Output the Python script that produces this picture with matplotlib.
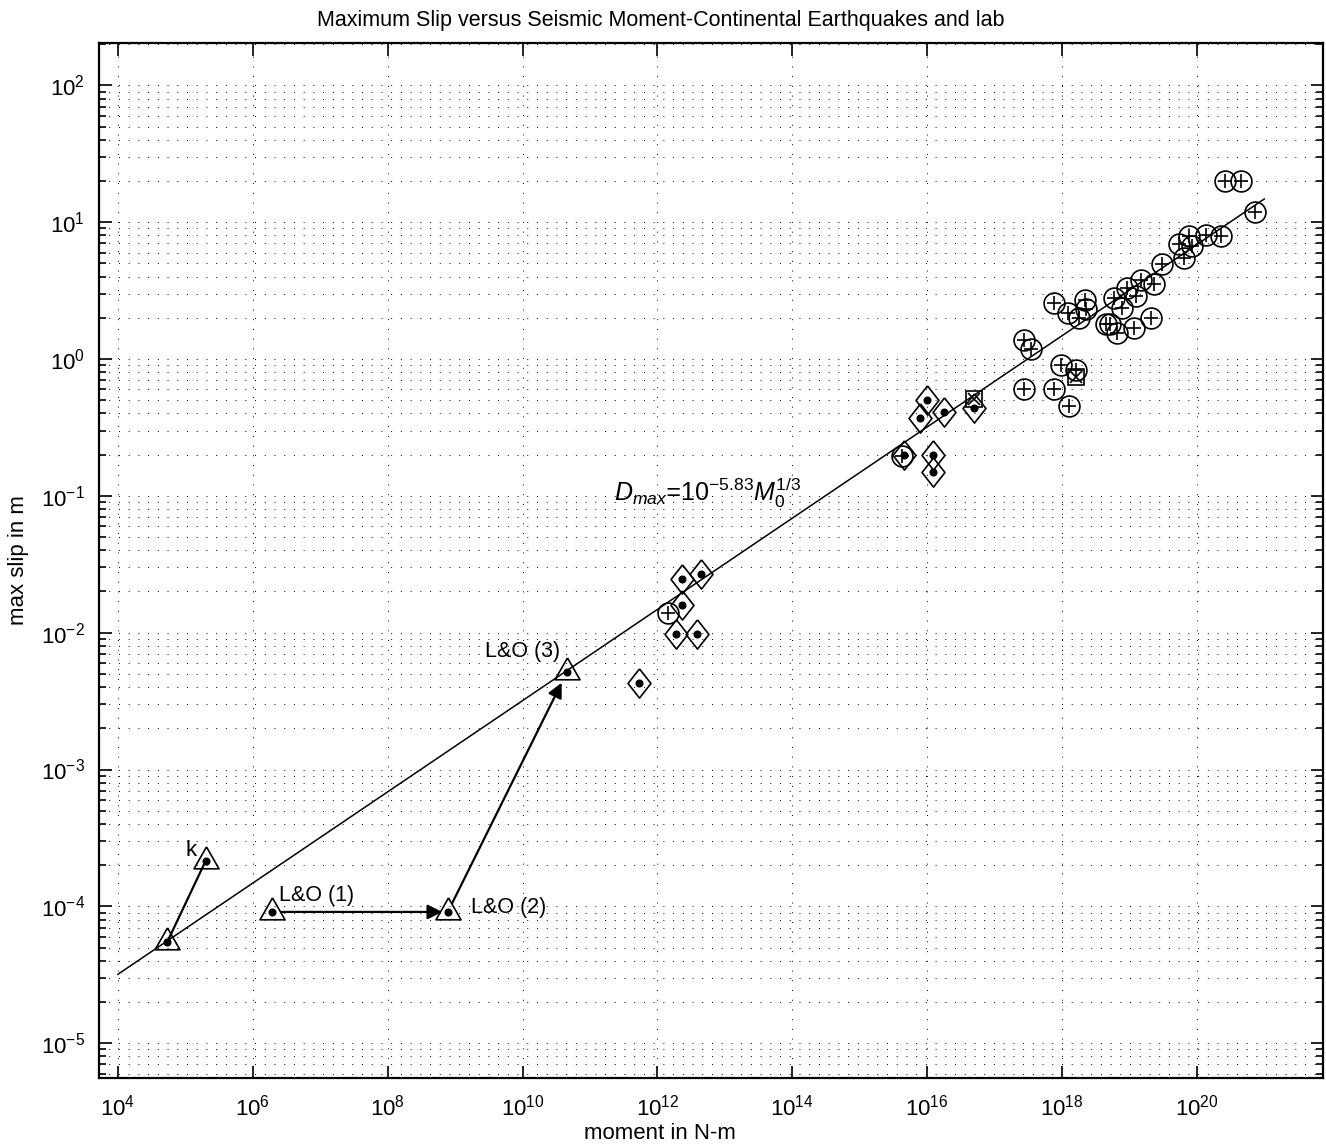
import numpy as np
import matplotlib
matplotlib.use("Agg")
import matplotlib.pyplot as plt
from matplotlib.ticker import LogLocator, FixedLocator, NullLocator, FuncFormatter, NullFormatter

plt.rcParams['font.family'] = ['Liberation Sans', 'DejaVu Sans']
plt.rcParams['mathtext.fontset'] = 'custom'
plt.rcParams['mathtext.rm'] = 'Liberation Sans'
plt.rcParams['mathtext.it'] = 'Liberation Sans:italic'

# continental earthquakes (circle with plus)
quake_moment = [1.45e12, 4.3e15, 2.75e17, 3.5e17, 2.75e17, 7.6e17, 9.8e17, 1.26e18,
                1.62e18, 7.6e17, 1.23e18, 2.2e18, 2.3e18, 1.8e18, 4.5e18, 5.1e18,
                6.5e18, 1.17e19, 2.1e19, 5.9e18, 7.8e18, 9.1e18, 1.26e19, 1.48e19,
                2.3e19, 3.0e19, 5.4e19, 6.5e19, 7.6e19, 8.5e19, 1.35e20, 2.3e20,
                2.6e20, 4.5e20, 7.4e20]
quake_slip = [0.014, 0.196, 1.38, 1.18, 0.60, 0.60, 0.90, 0.45,
              0.83, 2.56, 2.17, 2.70, 2.32, 1.99, 1.80, 1.80,
              1.55, 1.68, 1.99, 2.79, 2.36, 3.30, 2.88, 3.78,
              3.52, 4.93, 6.9, 5.46, 7.9, 6.7, 8.0, 7.9,
              20.0, 20.0, 11.8]

# diamonds with dot
small_moment = [5.4e11, 1.86e12, 3.9e12, 2.3e12, 2.3e12, 4.5e12,
                4.6e15, 1.0e16, 7.9e15, 1.8e16, 1.23e16, 1.23e16, 5.0e16]
small_slip = [0.0043, 0.0098, 0.0098, 0.016, 0.0246, 0.027,
              0.20, 0.50, 0.37, 0.41, 0.20, 0.15, 0.44]

# squares with x
sq_moment = [5.0e16, 1.62e18]
sq_slip = [0.51, 0.74]

# lab events (triangles with dot): base, k, L&O (1), L&O (2), L&O (3)
lab_moment = [5.4e4, 2.0e5, 1.9e6, 7.8e8, 4.6e10]
lab_slip = [5.5e-5, 2.15e-4, 9.1e-5, 9.1e-5, 5.2e-3]

fig = plt.figure(figsize=(13.26, 11.46), dpi=100)
ax = fig.add_axes([0.0747, 0.0593, 0.9230, 0.9032])
ax.set_xscale('log')
ax.set_yscale('log')
ax.set_xlim(10**3.72, 10**21.87)
ax.set_ylim(10**-5.255, 10**2.31)

# scaling line
m_fit = np.logspace(4, 21, 50)
ax.plot(m_fit, 10**-5.83 * m_fit**(1/3), color='k', lw=1.1, zorder=3)

tri = [(0, 14), (-12, -7), (12, -7), (0, 14)]
dia = [(0, 14), (11, 0), (0, -14), (-11, 0), (0, 14)]

ax.plot(quake_moment, quake_slip, 'o', ms=15, mfc='none', mec='k', mew=1.2, zorder=4)
ax.plot(quake_moment, quake_slip, '+', ms=10, mec='k', mew=1.2, zorder=4)

ax.plot(small_moment, small_slip, ls='none', marker=dia, ms=21, mfc='none', mec='k', mew=1.2, zorder=4)
ax.plot(small_moment, small_slip, 'o', ms=4.8, color='k', zorder=5)

ax.plot(sq_moment, sq_slip, 's', ms=12, mfc='none', mec='k', mew=1.2, zorder=4)
ax.plot(sq_moment, sq_slip, 'x', ms=8, mec='k', mew=1.2, zorder=4)

ax.plot(lab_moment, lab_slip, ls='none', marker=tri, ms=21, mfc='none', mec='k', mew=1.2, zorder=4)
ax.plot(lab_moment, lab_slip, 'o', ms=4.8, color='k', zorder=5)

# lab paths
ax.plot(lab_moment[:2], lab_slip[:2], color='k', lw=1.6, zorder=4)
arrow_kw = dict(arrowstyle='-|>', color='k', lw=1.6, mutation_scale=22)
ax.annotate('', xy=(lab_moment[3], lab_slip[3]), xytext=(lab_moment[2], lab_slip[2]),
            arrowprops=dict(shrinkA=7, shrinkB=4, **arrow_kw), zorder=4)
ax.annotate('', xy=(lab_moment[4], lab_slip[4]), xytext=(lab_moment[3], lab_slip[3]),
            arrowprops=dict(shrinkA=7, shrinkB=9, **arrow_kw), zorder=4)

ax.text(1.2e5, 2.55e-4, 'k', fontsize=16, ha='center', va='center')
ax.text(2.43e6, 1.2e-4, 'L&O (1)', fontsize=15.5, ha='left', va='center')
ax.text(1.7e9, 9.8e-5, 'L&O (2)', fontsize=15.5, ha='left', va='center')
ax.text(2.8e9, 7.3e-3, 'L&O (3)', fontsize=15.5, ha='left', va='center')
ax.text(10**11.36, 10**-0.98, r'$\mathit{D_{max}}$=$\mathit{10^{-5.83}M_0^{1/3}}$',
        fontsize=18, style='italic', ha='left', va='center')

# ticks and grid
ax.xaxis.set_major_locator(FixedLocator([10.0**e for e in range(4, 21, 2)]))
ax.xaxis.set_minor_locator(NullLocator())
ax.yaxis.set_major_locator(LogLocator(base=10, numticks=20))
ax.yaxis.set_minor_locator(LogLocator(base=10, subs=np.arange(2, 10), numticks=20))
fmt = FuncFormatter(lambda v, p: r'$\mathregular{10^{%d}}$' % round(np.log10(v)))
ax.xaxis.set_major_formatter(fmt)
ax.yaxis.set_major_formatter(fmt)
ax.yaxis.set_minor_formatter(NullFormatter())
ax.tick_params(which='both', direction='in', top=True, right=True, labelsize=16, width=1.2)
ax.tick_params(which='major', length=9, pad=10)
ax.tick_params(axis='x', which='major', pad=12)
ax.tick_params(which='minor', length=5)
ax.grid(True, which='major', color='k', lw=0.7, ls=(0, (1, 9)))
ax.grid(True, which='minor', axis='y', color='k', lw=0.7, ls=(0, (1, 9)))
for s in ax.spines.values():
    s.set_linewidth(1.6)

ax.set_xlabel('moment in N-m', fontsize=16)
ax.xaxis.set_label_coords(0.458, -0.043)
ax.set_ylabel('max slip in m', fontsize=16)
ax.yaxis.set_label_coords(-0.057, 0.5)
ax.set_title('Maximum Slip versus Seismic Moment-Continental Earthquakes and lab',
             fontsize=15.5, x=0.459, pad=12)

fig.savefig('out.png', dpi=100)
